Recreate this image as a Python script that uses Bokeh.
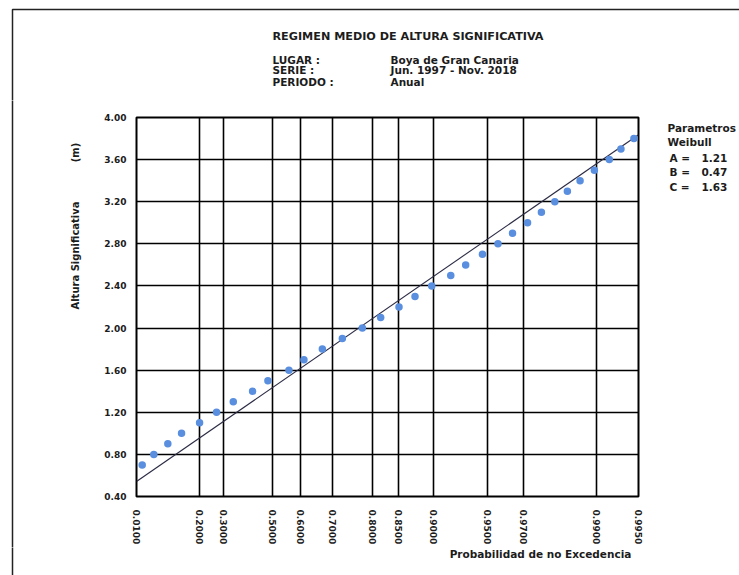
import numpy as np
from bokeh.plotting import figure
from bokeh.layouts import column, row
from bokeh.models import (Range1d, FixedTicker, NumeralTickFormatter,
                          CustomJSTickFormatter)
from bokeh.core.properties import value
from bokeh.embed import file_html
from bokeh.resources import INLINE

# Weibull parameters of the fit (H = B + A * (-ln(1-P))**(1/C))
param_a = 1.21
param_b = 0.47
param_c = 1.63

# Empirical non-exceedance probability for each significant wave height class
heights = [0.7, 0.8, 0.9, 1.0, 1.1, 1.2, 1.3, 1.4, 1.5, 1.6, 1.7, 1.8, 1.9, 2.0,
           2.1, 2.2, 2.3, 2.4, 2.5, 2.6, 2.7, 2.8, 2.9, 3.0, 3.1, 3.2, 3.3, 3.4,
           3.5, 3.6, 3.7, 3.8]
probs = [0.0197, 0.0460, 0.0867, 0.1336, 0.2022, 0.2712, 0.3406, 0.4200,
         0.4810, 0.5600, 0.6122, 0.6710, 0.7279, 0.7776, 0.8168, 0.8505,
         0.8757, 0.8982, 0.9196, 0.9336, 0.9468, 0.9569, 0.9648, 0.9716,
         0.9768, 0.9810, 0.9843, 0.9871, 0.9897, 0.9919, 0.9933, 0.9946]

# Probability axis ticks and height axis ticks
prob_ticks = [0.01, 0.2, 0.3, 0.5, 0.6, 0.7, 0.8, 0.85, 0.9, 0.95, 0.97, 0.99, 0.995]
height_ticks = [0.4, 0.8, 1.2, 1.6, 2.0, 2.4, 2.8, 3.2, 3.6, 4.0]

# Header / caption texts
title = "REGIMEN MEDIO DE ALTURA SIGNIFICATIVA"
info_keys = ["LUGAR :", "SERIE :", "PERIODO :"]
info_values = ["Boya de Gran Canaria", "Jun. 1997 - Nov. 2018", "Anual"]
param_names = ["A =", "B =", "C ="]
param_values = [param_a, param_b, param_c]

FONT = "DejaVu Sans"
TXT = "#1c1c1c"
BORDER = "#222222"

HEAD_H = 100      # header band height
BODY_H = 447      # chart band height
FOOT_H = 28       # footer band height
LEFT_W = 100      # strip left of the chart
MAIN_W = 548      # chart figure width
RIGHT_W = 91      # parameter strip width


def weibull_x(p):
    """Weibull-paper abscissa for a non-exceedance probability."""
    return (-np.log(1.0 - np.asarray(p, dtype=float))) ** (1.0 / param_c)


def panel(w, h):
    """Blank figure whose data coordinates are its own pixels (y down)."""
    f = figure(width=w, height=h, x_range=Range1d(0, w), y_range=Range1d(h, 0),
               x_axis_type=None, y_axis_type=None,
               min_border_left=0, min_border_right=0,
               min_border_top=0, min_border_bottom=0,
               output_backend="svg", toolbar_location=None)
    f.grid.visible = False
    f.outline_line_color = None
    f.background_fill_color = "white"
    f.border_fill_color = "white"
    return f


def put(f, xs, ys, texts, size="10.5px", align="left", angle=0.0):
    f.text(x=xs, y=ys, text=texts, text_font=value(FONT),
           text_font_size=value(size), text_font_style="bold",
           text_color=TXT, text_align=align, text_baseline="middle",
           angle=angle)


# ---- header ----
head = panel(739, HEAD_H)
head.line([12, 12, 739], [HEAD_H + 2, 9, 9], line_color=BORDER, line_width=1.5)
put(head, [272], [36], [title], size="11.2px")
put(head, [272, 272, 272], [59.5, 69.5, 81.5], info_keys)
put(head, [390, 390, 390], [59.5, 69.5, 81.5], info_values)

# ---- left strip with the vertical axis title ----
left = panel(LEFT_W, BODY_H)
left.line([12, 12], [-2, BODY_H + 2], line_color=BORDER, line_width=1.5)
put(left, [75], [255 - HEAD_H], ["Altura Significativa"], size="10px",
    align="center", angle=np.pi / 2)
put(left, [75], [152 - HEAD_H], ["(m)"], size="10px", align="center",
    angle=np.pi / 2)

# ---- main Weibull plot ----
x_ticks = [float(v) for v in weibull_x(prob_ticks)]
p = figure(width=MAIN_W, height=BODY_H,
           min_border_left=36, min_border_right=10,
           min_border_top=17, min_border_bottom=50,
           x_range=Range1d(x_ticks[0], x_ticks[-1]),
           y_range=Range1d(height_ticks[0], height_ticks[-1]),
           output_backend="svg", toolbar_location=None)
p.background_fill_color = "white"
p.border_fill_color = "white"
p.outline_line_color = "black"
p.outline_line_width = 2

p.xaxis.ticker = FixedTicker(ticks=x_ticks)
p.xaxis.formatter = CustomJSTickFormatter(
    args=dict(c=param_c),
    code="return (1 - Math.exp(-Math.pow(tick, c))).toFixed(4);")
p.xaxis.major_label_orientation = -np.pi / 2
p.xaxis.major_label_standoff = 7
p.yaxis.ticker = FixedTicker(ticks=height_ticks)
p.yaxis.formatter = NumeralTickFormatter(format="0.00")
p.yaxis.major_label_standoff = 4
for ax in (p.xaxis, p.yaxis):
    ax.axis_line_color = None
    ax.major_tick_line_color = None
    ax.minor_tick_line_color = None
    ax.major_label_text_font = FONT
    ax.major_label_text_font_style = "bold"
    ax.major_label_text_color = TXT
    ax.major_label_text_font_size = "9px"

p.xgrid.ticker = FixedTicker(ticks=x_ticks)
p.ygrid.ticker = FixedTicker(ticks=height_ticks)
for g in (p.xgrid, p.ygrid):
    g.grid_line_color = "black"
    g.grid_line_width = 1.6
    g.grid_line_alpha = 1.0

# fitted Weibull line across the probability range
line_x = weibull_x([prob_ticks[0], prob_ticks[-1]])
line_h = param_b + param_a * line_x
p.line(line_x, line_h, line_color="#2a2a44", line_width=1.1)

# empirical points
p.scatter(weibull_x(probs), heights, size=7.5, fill_color="#5a8fdf",
          line_color=None)

# ---- right strip with the fit parameters ----
right = panel(RIGHT_W, BODY_H)
x_r = 739 - RIGHT_W
put(right, [667 - x_r] * 2, [127.5 - HEAD_H, 141.5 - HEAD_H],
    ["Parametros", "Weibull"])
put(right, [669 - x_r] * 3, [157.5 - HEAD_H, 171.5 - HEAD_H, 186 - HEAD_H],
    param_names)
put(right, [701 - x_r] * 3, [157.5 - HEAD_H, 171.5 - HEAD_H, 186 - HEAD_H],
    [f"{v:.2f}" for v in param_values])

# ---- footer with the probability axis title ----
foot = panel(739, FOOT_H)
foot.line([12, 12], [-2, FOOT_H + 2], line_color=BORDER, line_width=1.5)
put(foot, [540], [553 - (HEAD_H + BODY_H)], ["Probabilidad de no Excedencia"],
    align="center")

# each band sits in its own column so the frames keep their own extents
body = row(column(left, spacing=0), column(p, spacing=0),
           column(right, spacing=0), spacing=0)
layout = column(head, body, foot, spacing=0)
open("out.html", "w").write(file_html(layout, INLINE))
